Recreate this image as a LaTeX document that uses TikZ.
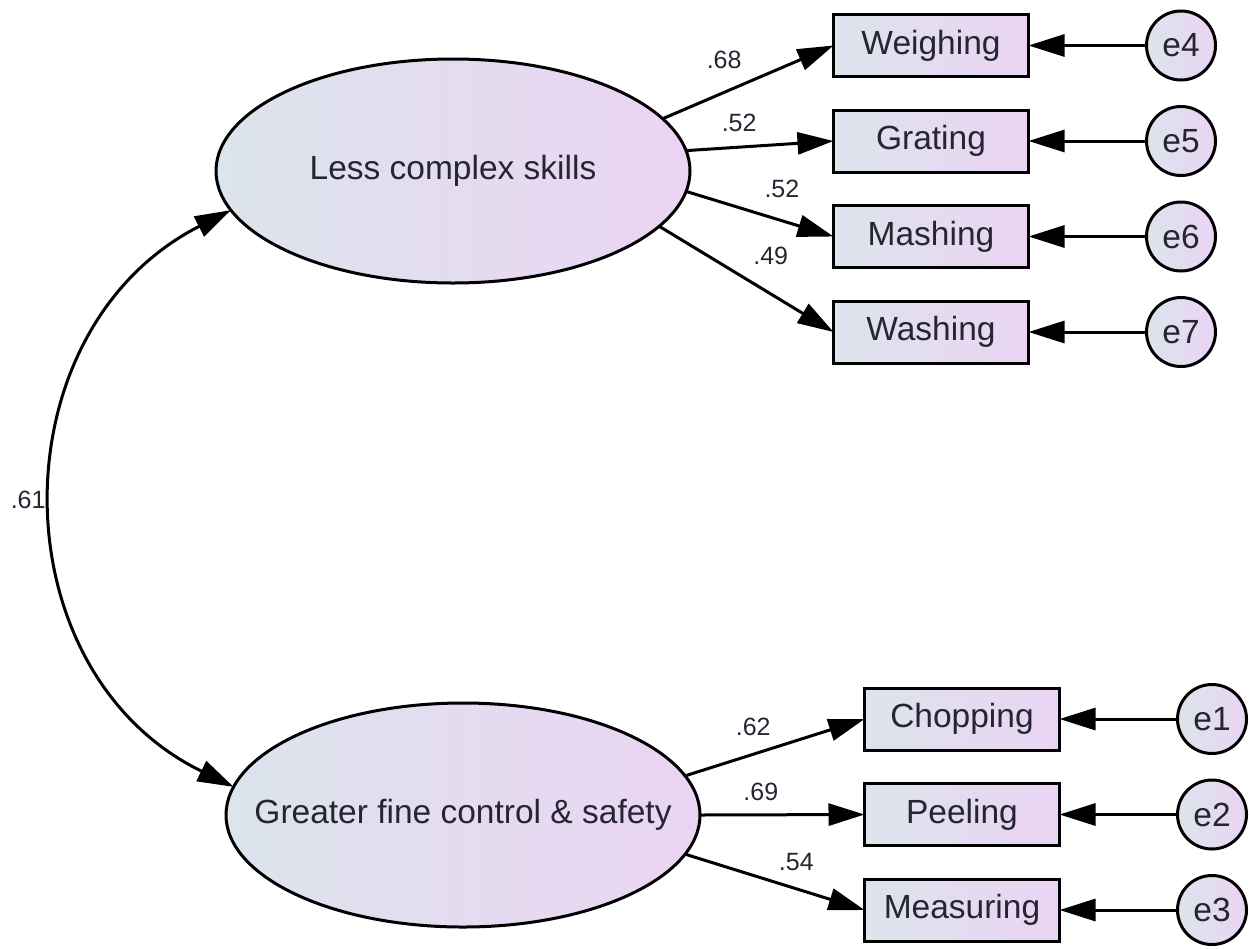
\documentclass[tikz,border=0pt]{standalone}
\usepackage{fontspec}
\setmainfont{Liberation Sans}
\usetikzlibrary{arrows.meta,positioning,shapes.geometric}

\definecolor{semleft}{RGB}{220,228,236}
\definecolor{semright}{RGB}{235,212,243}
\definecolor{semtext}{RGB}{38,38,50}

\tikzset{
  shaded/.style={draw, line width=3pt, left color=semleft, right color=semright,
    text=semtext, inner sep=0pt, outer sep=0pt, font=\fontsize{33.5}{40}\selectfont},
  latent/.style={shaded, ellipse, inner xsep=-70pt, minimum width=474pt, minimum height=224pt},
  ind/.style={shaded, rectangle, minimum width=195pt, minimum height=62pt},
  err/.style={shaded, circle, minimum size=69pt},
  load/.style={line width=3pt, -{Triangle[length=36pt,width=22pt]}},
  lbl/.style={font=\fontsize{25}{30}\selectfont, text=semtext, inner sep=0pt},
}

\begin{document}
\begin{tikzpicture}[x=1pt, y=1pt]
  \useasboundingbox (0,0) rectangle (1249,-948);

  % Define nodes
  \node[latent] (ls) at (453,-171) {Less complex skills};
  \node[latent] (gf) at (463,-815) {Greater fine control \& safety};

  \node[ind] (weigh) at (931,-45.5) {Weighing};
  \node[ind, below=33.5pt of weigh] (grate) {Grating};
  \node[ind, below=33.5pt of grate] (mash)  {Mashing};
  \node[ind, below=33.5pt of mash]  (wash)  {Washing};

  \node[ind] (chop) at (962,-719) {Chopping};
  \node[ind, below=33.5pt of chop] (peel) {Peeling};
  \node[ind, below=33.5pt of peel] (meas) {Measuring};

  \node[err, right=118pt of weigh] (e4) {e4};
  \node[err, right=118pt of grate] (e5) {e5};
  \node[err, right=118pt of mash]  (e6) {e6};
  \node[err, right=118pt of wash]  (e7) {e7};
  \node[err, right=118pt of chop]  (e1) {e1};
  \node[err, right=118pt of peel]  (e2) {e2};
  \node[err, right=118pt of meas]  (e3) {e3};

  % Loadings
  \draw[load] (ls.14)  -- node[lbl, pos=.36, above=22pt] {.68} (weigh.west);
  \draw[load] (ls.5)   -- node[lbl, pos=.36, above=14pt] {.52} (grate.west);
  \draw[load] (ls.-5)  -- node[lbl, pos=.65, above=21pt] {.52} (mash.west);
  \draw[load] (ls.-15) -- node[lbl, pos=.64, above=28pt] {.49} (wash.west);

  \draw[load] (gf.10)  -- node[lbl, pos=.38, above=17pt] {.62} (chop.west);
  \draw[load] (gf.0)   -- node[lbl, pos=.37, above=13pt] {.69} (peel.west);
  \draw[load] (gf.-10) -- node[lbl, pos=.62, above=17pt] {.54} (meas.west);

  % Errors
  \foreach \e/\v in {e4/weigh, e5/grate, e6/mash, e7/wash, e1/chop, e2/peel, e3/meas}
    \draw[load] (\e) -- (\v.east);

  % Covariance
  \draw[line width=3pt, {Triangle[length=36pt,width=22pt]}-{Triangle[length=36pt,width=22pt]}]
    (ls.190) to[out=207, in=154, looseness=1.17] node[lbl, left=8pt] {.61} (gf.173);

\end{tikzpicture}
\end{document}
